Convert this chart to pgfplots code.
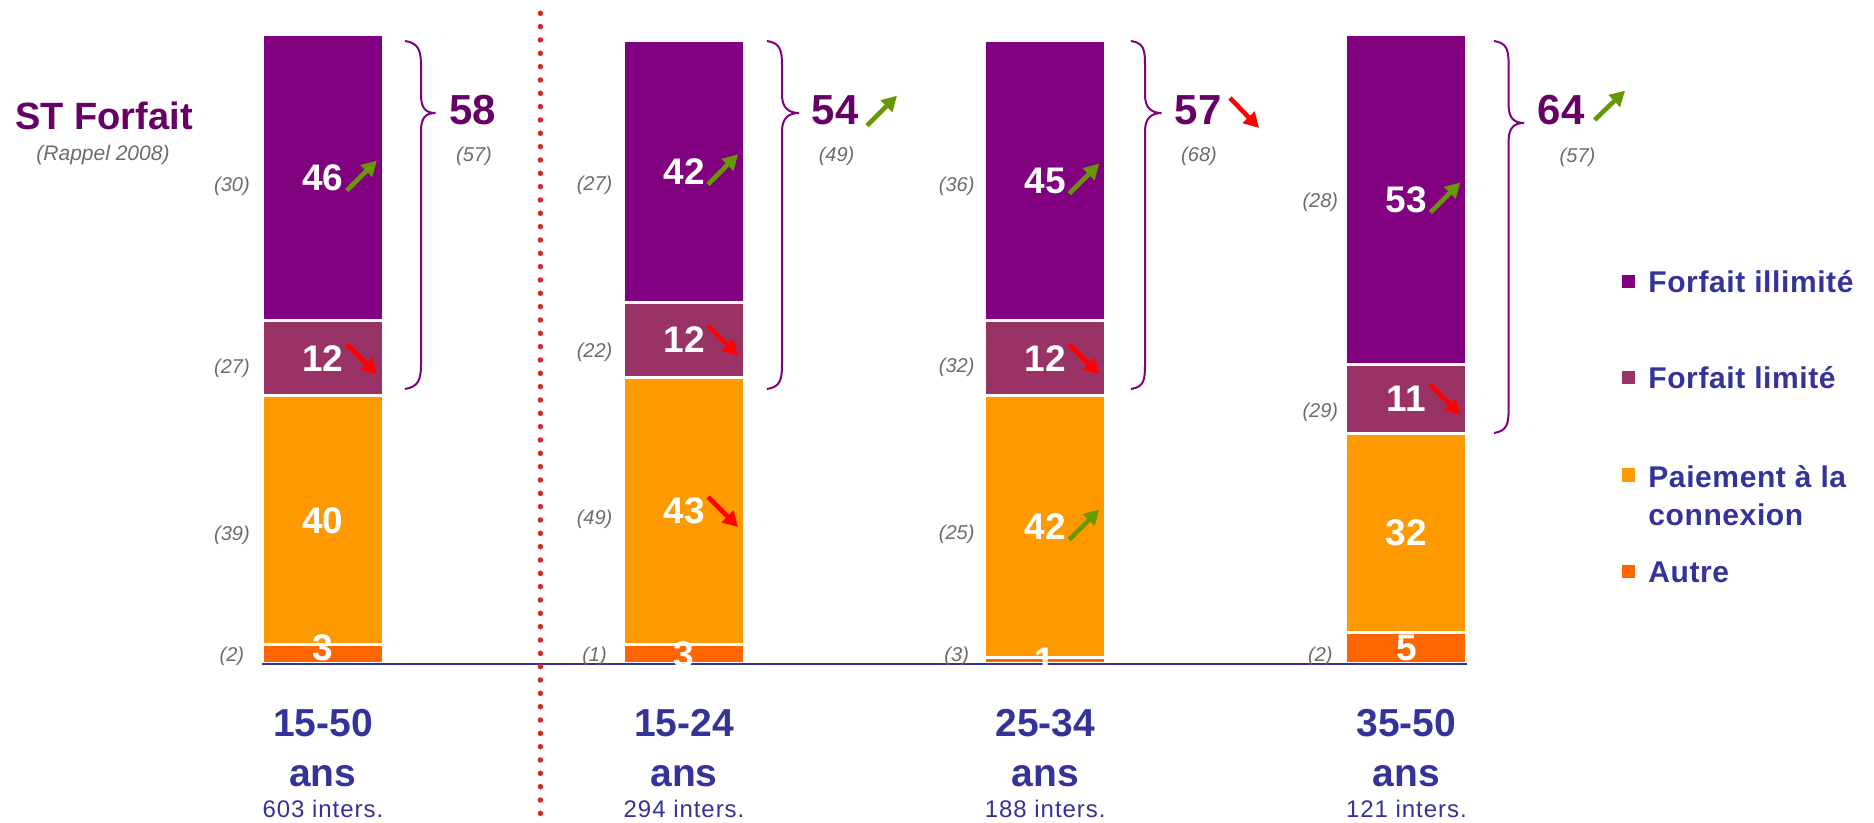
\documentclass[border=0pt]{standalone}
\usepackage{fontspec}
\setmainfont{Liberation Sans}
\newfontfamily\legfont[LetterSpace=2]{Liberation Sans}
\newfontfamily\intfont[LetterSpace=4]{Liberation Sans}
\usepackage{pgfplots}
\usepackage{pgfplotstable}
\pgfplotsset{compat=1.18}
\usetikzlibrary{arrows.meta}
\definecolor{illim}{HTML}{800080}
\definecolor{lim}{HTML}{993366}
\definecolor{paie}{HTML}{FF9900}
\definecolor{autre}{HTML}{FF6600}
\definecolor{navy}{HTML}{333399}
\definecolor{dpurple}{HTML}{660066}
\definecolor{gtxt}{HTML}{6B6B6B}
\definecolor{garrow}{HTML}{669900}
\definecolor{rarrow}{HTML}{FF0000}
\definecolor{dotred}{HTML}{D42A20}

\pgfplotstableread{
x autre paie lim illim
0 3 40 12 46
1 3 43 12 42
2 1 42 12 45
3 5 32 11 53
}\data

\newcommand{\mybrace}[6]{%
 \draw[illim, line width=1pt] (#1,#4) .. controls ({#1+13},{#4+2}) and (#2,{#4+9}) .. (#2,{#4+24}) -- (#2,{#5-18}) .. controls (#2,{#5-5}) and ({#3-10},#5) .. (#3,#5) .. controls ({#3-10},#5) and (#2,{#5+5}) .. (#2,{#5+18}) -- (#2,{#6-24}) .. controls (#2,{#6-9}) and ({#1+13},{#6-2}) .. (#1,#6);}

\tikzset{
 vlab/.style={text=white, font=\bfseries\fontsize{18.5pt}{20pt}\selectfont, inner sep=0pt},
 gl/.style={text=gtxt, font=\itshape\fontsize{10pt}{12pt}\selectfont, inner sep=0pt},
 tot/.style={text=dpurple, font=\bfseries\fontsize{21pt}{24pt}\selectfont, inner sep=0pt},
 cat/.style={text=navy, font=\bfseries\fontsize{19.5pt}{22pt}\selectfont, inner sep=0pt, anchor=base},
 nint/.style={text=navy, font=\intfont\fontsize{12pt}{14pt}\selectfont, inner sep=0pt, anchor=base},
 leg/.style={text=navy, font=\legfont\bfseries\fontsize{15pt}{17pt}\selectfont, inner sep=0pt, anchor=base west},
 ga/.style={draw=garrow, line width=2.3pt, -{Triangle[length=7.5pt,width=8pt]}},
 ra/.style={draw=rarrow, line width=2.3pt, -{Triangle[length=7.5pt,width=8pt]}},
}
% mapping of (bar index, value) to the picture: x = 322.9 + 361.15 i, y = 663.7 - 6.232 v (pixels)
\newcommand{\vl}[3]{\node[vlab] at ({322.9+361.15*(#1)},{663.7-6.232*(#2)}) {#3};}
\newcommand{\gv}[4]{\node[gl] at ({322.9+361.15*(#1)+#4},{663.7-6.232*(#2)}) {#3};}
\newcommand{\up}[2]{\draw[ga] ({322.9+361.15*(#1)+24},{663.7-6.232*(#2)+13}) -- ++(30,-30);}
\newcommand{\down}[2]{\draw[ra] ({322.9+361.15*(#1)+24},{663.7-6.232*(#2)-14}) -- ++(30,30);}
\newcommand{\catl}[3]{%
 \node[cat] at ({322.9+361.15*(#1)},737) {#2};
 \node[cat] at ({322.9+361.15*(#1)},787) {ans};
 \node[nint] at ({322.9+361.15*(#1)},818) {#3};}

\begin{document}
\begin{tikzpicture}
\useasboundingbox (0,0) rectangle (937pt,411.5pt);
\begin{axis}[at={(0pt,0pt)}, anchor=south west, scale only axis,
  width=937pt, height=411.5pt,
  xmin=-0.89409, xmax=4.29489, ymin=-25.561, ymax=106.499,
  hide axis, clip=false, ybar stacked, bar width=60.5pt]
\addplot[fill=autre, draw=white, line width=1.5pt] table[x=x,y=autre]{\data};
\addplot[fill=paie, draw=white, line width=1.5pt] table[x=x,y=paie]{\data};
\addplot[fill=lim, draw=white, line width=1.5pt] table[x=x,y=lim]{\data};
\addplot[fill=illim, draw=white, line width=1.5pt] table[x=x,y=illim]{\data};
\end{axis}
\begin{scope}[x=0.5pt,y=-0.5pt,yshift=411.5pt]
% baseline
\draw[navy, line width=1.15pt] (262,663.7) -- (1467,663.7);
% values in bars
\vl{0}{78}{46} \vl{0}{49}{12} \vl{0}{23}{40} \vl{0}{2.6}{3}
\vl{1}{79}{42} \vl{1}{52}{12} \vl{1}{24.5}{43} \vl{1}{1.5}{3}
\vl{2}{77.5}{45} \vl{2}{49}{12} \vl{2}{22}{42} \vl{2}{0.5}{1}
\vl{3}{74.5}{53} \vl{3}{42.5}{11} \vl{3}{21}{32} \vl{3}{2.5}{5}
% trend arrows
\up{0}{78} \down{0}{49}
\up{1}{79} \down{1}{52} \down{1}{24.5}
\up{2}{77.5} \down{2}{49} \up{2}{22}
\up{3}{74.5} \down{3}{42.5}
% 2008 values
\gv{0}{76.65}{(30)}{-91} \gv{0}{47.45}{(27)}{-91} \gv{0}{20.65}{(39)}{-91} \gv{0}{1.24}{(2)}{-91}
\gv{1}{76.81}{(27)}{-89.5} \gv{1}{49.94}{(22)}{-89.5} \gv{1}{23.22}{(49)}{-89.5} \gv{1}{1.24}{(1)}{-89.5}
\gv{2}{76.65}{(36)}{-88.5} \gv{2}{47.53}{(32)}{-88.5} \gv{2}{20.81}{(25)}{-88.5} \gv{2}{1.24}{(3)}{-88.5}
\gv{3}{74.08}{(28)}{-86} \gv{3}{40.38}{(29)}{-86} \gv{3}{1.24}{(2)}{-86}
% category labels
\catl{0}{15-50}{603 inters.}
\catl{1}{15-24}{294 inters.}
\catl{2}{25-34}{188 inters.}
\catl{3}{35-50}{121 inters.}
% separator
\draw[dotred, line width=2.75pt, line cap=round, dash pattern=on 0pt off 6.667pt] (540.4,13.3) -- (540.4,823);
\node[anchor=base west, inner sep=0pt, text=dpurple, font=\bfseries\fontsize{19pt}{22pt}\selectfont] at (15,130) {ST Forfait};
\node[gl, font=\itshape\fontsize{10.5pt}{12pt}\selectfont] at (103,155) {(Rappel 2008)};
% braces
\mybrace{405}{421}{435.5}{41}{113}{389}
\mybrace{767}{782}{799}{41}{113}{389}
\mybrace{1131}{1145}{1161.6}{41}{113}{389}
\mybrace{1494}{1508.6}{1524}{41}{123}{433}
% totals
\node[tot] at (473,110) {58};
\node[gl] at (474,156) {(57)};
\node[tot] at (835,110) {54};
\node[gl] at (836.6,156) {(49)};
\node[tot] at (1198,110) {57};
\node[gl] at (1199,156) {(68)};
\node[tot] at (1561,110) {64};
\node[gl] at (1577.5,157) {(57)};
\draw[ga] (867,125.7) -- (897,95.7);
\draw[ra] (1230,98) -- (1259,128);
\draw[ga] (1594.6,120) -- (1625,90.7);
% legend
\fill[illim] (1621.7,275) rectangle (1635,288);
\fill[lim] (1621.7,370.7) rectangle (1635,384);
\fill[paie] (1621.7,468) rectangle (1635,482);
\fill[autre] (1621.7,565) rectangle (1635,578);
\node[leg] at (1648,293) {Forfait illimité};
\node[leg] at (1648,389) {Forfait limité};
\node[leg] at (1648,488) {Paiement à la};
\node[leg] at (1648,526) {connexion};
\node[leg] at (1648,583) {Autre};
\end{scope}
\end{tikzpicture}
\end{document}
